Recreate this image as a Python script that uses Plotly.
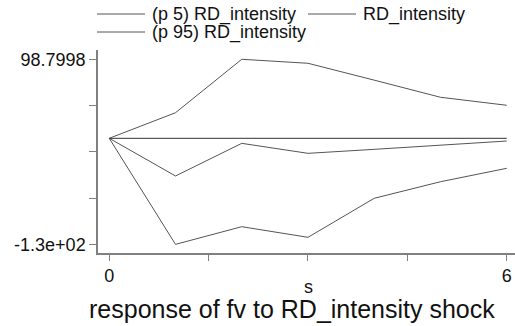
import plotly.graph_objects as go
import numpy as np

steps = [0, 1, 2, 3, 4, 5, 6]
p5 = [0, -132.6, -110.5, -123.8, -75.0, -54.3, -37.5]
irf = [0, -47.1, -6.3, -18.8, -13.8, -8.6, -3.4]
p95 = [0, 32.0, 98.7998, 93.8, 72.7, 51.3, 41.3]

series_names = ["(p 5) RD_intensity", "RD_intensity", "(p 95) RD_intensity"]
x_tick_vals = [0, 1.5, 3, 4.5, 6]
x_tick_text = ["0", "", "", "", "6"]

ymin, ymax = min(p5), max(p95)
y_tick_vals = list(np.linspace(ymin, ymax, 5))
y_tick_text = ["-1.3e+02", "", "", "", "98.7998"]

FONT = "Liberation Sans, Arial, sans-serif"
LINE = "#555555"
W, H = 515, 326
L, R, T, B = 98, 0, 50, 73
PW, PH = W - L - R, H - T - B


def px(x):
    return (x - L) / PW


def py(y):
    return (H - B - y) / PH


fig = go.Figure()
for name, vals in zip(series_names, [p5, irf, p95]):
    fig.add_trace(go.Scatter(x=steps, y=vals, mode="lines", name=name,
                             line=dict(color=LINE, width=1), showlegend=False,
                             hoverinfo="skip"))

fig.add_shape(type="line", xref="x", yref="y", x0=0, x1=6, y0=0, y1=0,
              line=dict(color="#333333", width=1))

# legend (Stata style, two columns)
legend_pos = [(97, 14), (308, 14), (97, 32)]
annotations = []
for name, (lx, ly) in zip(series_names, legend_pos):
    fig.add_shape(type="line", xref="paper", yref="paper",
                  x0=px(lx), x1=px(lx + 48), y0=py(ly), y1=py(ly),
                  line=dict(color=LINE, width=1))
    annotations.append(dict(text=name, xref="paper", yref="paper",
                            x=px(lx + 53), y=py(ly), xanchor="left", yanchor="middle",
                            showarrow=False, font=dict(size=18, family=FONT, color="#111111")))

annotations.append(dict(text="s", xref="paper", yref="paper", x=px(308), y=py(287),
                        xanchor="center", yanchor="middle", showarrow=False,
                        font=dict(size=18, family=FONT, color="#111111")))
annotations.append(dict(text="response of fv to RD_intensity shock", xref="paper", yref="paper",
                        x=px(292), y=py(309), xanchor="center", yanchor="middle",
                        showarrow=False, font=dict(size=25, family=FONT, color="#111111")))

fig.update_layout(
    width=W, height=H,
    margin=dict(l=L, r=R, t=T, b=B, autoexpand=False),
    paper_bgcolor="white", plot_bgcolor="white",
    font=dict(family=FONT, size=18, color="#111111"),
    showlegend=False,
    hovermode=False,
    xaxis=dict(range=[-0.17, 6.125], tickvals=x_tick_vals, ticktext=x_tick_text,
               showgrid=False, zeroline=False, showline=True, linecolor="#808080",
               linewidth=1.5, ticks="outside", ticklen=6, tickcolor="#808080",
               tickfont=dict(size=18), automargin=False, ticklabeloverflow="allow"),
    yaxis=dict(range=[-143.4, 110.4], tickvals=y_tick_vals, ticktext=y_tick_text,
               showgrid=False, zeroline=False, showline=True, linecolor="#808080",
               linewidth=1.5, ticks="outside", ticklen=7, tickcolor="#808080",
               tickfont=dict(size=18), automargin=False),
    annotations=annotations,
)

fig.write_html("out.html", config={"displayModeBar": False},
               post_script="document.body.style.margin='0';document.body.style.overflow='hidden';")
